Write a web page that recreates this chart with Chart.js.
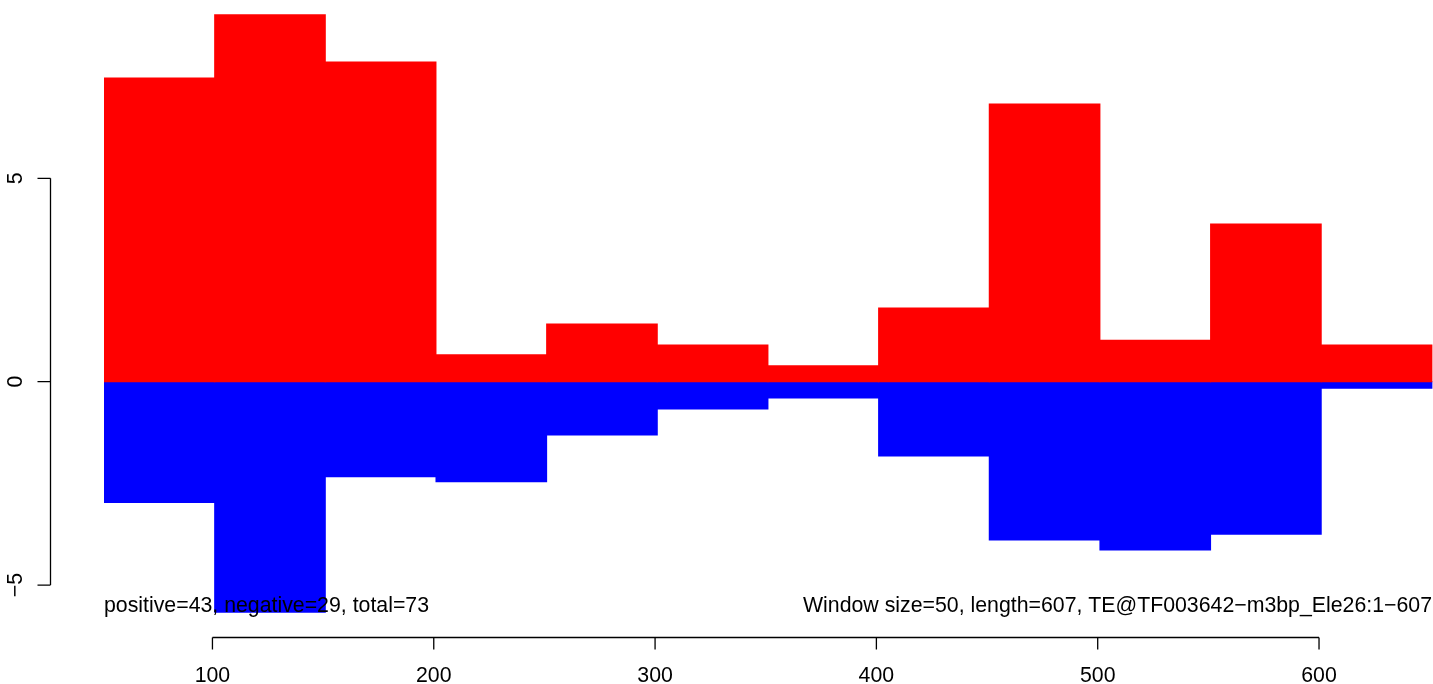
<!DOCTYPE html>
<html>
<head>
<meta charset="utf-8">
<script src="https://cdn.jsdelivr.net/npm/chart.js@4/dist/chart.umd.min.js"></script>
<style>
html,body{margin:0;padding:0;background:#fff;}
canvas{display:block;}
</style>
</head>
<body>
<canvas id="c" width="1433" height="684"></canvas>
<script>
// ---- data ----
const windowStart = [51, 101, 151, 201, 251, 301, 351, 401, 451, 501, 551, 601];
const windowSize = 50;
const positiveValues = [7.47, 9.02, 7.86, 0.66, 1.42, 0.90, 0.39, 1.81, 6.83, 1.02, 3.88, 0.90];
const negativeValues = [-2.97, -5.67, -2.34, -2.46, -1.31, -0.67, -0.40, -1.83, -3.89, -4.14, -3.75, -0.16];
const xTickValues = [100, 200, 300, 400, 500, 600];
const yTickValues = [-5, 0, 5];
const leftNote = "positive=43, negative=29, total=73";
const rightNote = "Window size=50, length=607, TE@TF003642\u2212m3bp_Ele26:1\u2212607";

const FONT = '21.3px "Liberation Sans", Arial, Helvetica, sans-serif';

const posData = windowStart.map((s, i) => ({x: s + windowSize / 2, y: positiveValues[i]}));
const negData = windowStart.map((s, i) => ({x: s + windowSize / 2, y: negativeValues[i]}));

const rAxes = {
  id: 'rAxes',
  afterDraw(chart) {
    const ctx = chart.ctx;
    const xs = chart.scales.x, ys = chart.scales.y;
    ctx.save();
    ctx.strokeStyle = '#000';
    ctx.fillStyle = '#000';
    ctx.lineWidth = 1.3;
    ctx.font = FONT;

    // x axis
    const axY = 637.5;
    const x0 = xs.getPixelForValue(xTickValues[0]);
    const x1 = xs.getPixelForValue(xTickValues[xTickValues.length - 1]);
    ctx.beginPath();
    ctx.moveTo(x0, axY); ctx.lineTo(x1, axY);
    xTickValues.forEach(v => {
      const px = xs.getPixelForValue(v);
      ctx.moveTo(px, axY); ctx.lineTo(px, axY + 12);
    });
    ctx.stroke();
    ctx.textAlign = 'center';
    ctx.textBaseline = 'alphabetic';
    xTickValues.forEach(v => {
      ctx.fillText(String(v), xs.getPixelForValue(v), 682);
    });

    // y axis
    const axX = 50.5;
    const y0 = ys.getPixelForValue(yTickValues[0]);
    const y1 = ys.getPixelForValue(yTickValues[yTickValues.length - 1]);
    ctx.beginPath();
    ctx.moveTo(axX, y0); ctx.lineTo(axX, y1);
    yTickValues.forEach(v => {
      const py = ys.getPixelForValue(v);
      ctx.moveTo(axX, py); ctx.lineTo(axX - 13, py);
    });
    ctx.stroke();
    yTickValues.forEach(v => {
      const py = ys.getPixelForValue(v);
      ctx.save();
      ctx.translate(21.5, py);
      ctx.rotate(-Math.PI / 2);
      ctx.textAlign = 'center';
      ctx.textBaseline = 'alphabetic';
      ctx.fillText(String(v).replace('-', '\u2212'), 0, 0);
      ctx.restore();
    });

    // notes
    ctx.textBaseline = 'alphabetic';
    ctx.textAlign = 'left';
    ctx.fillText(leftNote, 104, 612);
    ctx.textAlign = 'right';
    ctx.fillText(rightNote, 1432, 612);
    ctx.restore();
  }
};

new Chart(document.getElementById('c'), {
  type: 'bar',
  data: {
    datasets: [
      {label: 'positive', data: posData, backgroundColor: '#FF0000', borderWidth: 0,
       barPercentage: 1, categoryPercentage: 1, inflateAmount: 0.5},
      {label: 'negative', data: negData, backgroundColor: '#0000FF', borderWidth: 0,
       barPercentage: 1, categoryPercentage: 1, inflateAmount: 0.5}
    ]
  },
  options: {
    responsive: false,
    animation: false,
    devicePixelRatio: 1,
    layout: {padding: {left: 104, right: 0, top: 0, bottom: 48}},
    plugins: {legend: {display: false}, tooltip: {enabled: false}},
    scales: {
      x: {type: 'linear', display: false, stacked: true, offset: false, min: 51, max: 651.5,
          afterBuildTicks: (scale) => { scale.ticks = xTickValues.map(v => ({value: v})); }},
      y: {type: 'linear', display: false, stacked: true, min: -6.253, max: 9.385,
          afterBuildTicks: (scale) => { scale.ticks = yTickValues.map(v => ({value: v})); }}
    }
  },
  plugins: [rAxes]
});
</script>
</body>
</html>
